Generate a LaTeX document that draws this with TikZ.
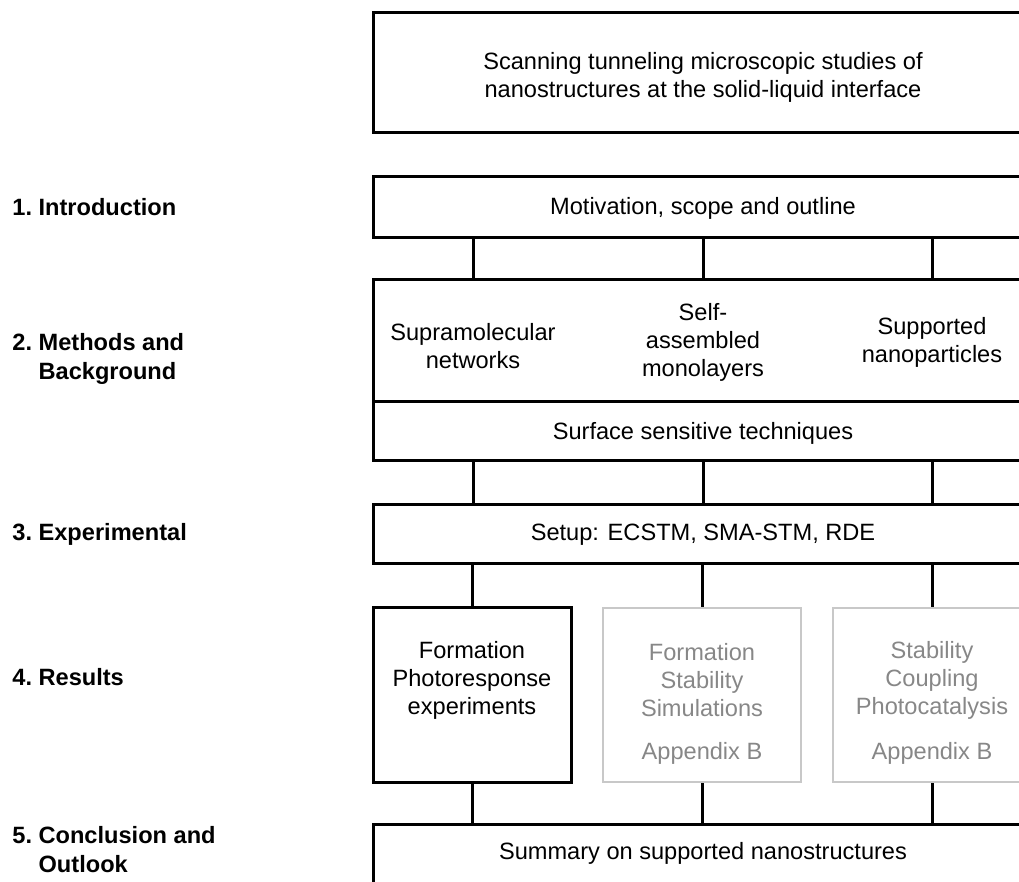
\documentclass[tikz,border=0pt]{standalone}
\usepackage{fontspec}
\setmainfont{Liberation Sans}
\definecolor{boxgrey}{RGB}{200,200,200}
\definecolor{txtgrey}{RGB}{135,135,135}
\begin{document}
\begin{tikzpicture}[x=0.5pt,y=-0.5pt,
  box/.style={draw,line width=1.5pt,minimum width=330pt,minimum height=30pt,inner sep=0pt},
  resbox/.style={draw,line width=1.5pt,minimum width=99pt,minimum height=87pt,inner sep=0pt},
  greybox/.style={resbox,draw=boxgrey,line width=1.3pt},
  txt/.style={align=center,inner sep=0pt,font=\fontsize{11.8}{14}\selectfont},
  greytxt/.style={txt,text=txtgrey},
  lbl/.style={anchor=west,align=left,inner sep=0pt,font=\fontsize{11.8}{14.5}\selectfont\bfseries},
  link/.style={line width=1.5pt}]
\useasboundingbox (0,0) rectangle (1019,882);
\clip (0,0) rectangle (1019,882);
\coordinate (c1) at (473,0);
\coordinate (c2) at (703,0);
\coordinate (c3) at (932,0);
% boxes
\node[box,minimum height=60pt] (title) at (703,73) {};
\node[txt] (titletxt) at (703,77) {Scanning tunneling microscopic studies of\\nanostructures at the solid-liquid interface};
\node[box,minimum height=30.5pt] (intro) at (703,207.5) {};
\node[txt] (introtxt) at (703,208) {Motivation, scope and outline};
\node[box,minimum height=61pt] (meth) at (703,341) {};
\node[txt] (supra) at (473,346) {Supramolecular\\networks};
\node[txt] (sam) at (703,342) {Self-\\assembled\\monolayers};
\node[txt] (nanop) at (932,342) {Supported\\nanoparticles};
\node[box,minimum height=29.5pt] (surf) at (703,431.5) {};
\node[txt] (surftxt) at (703,433) {Surface sensitive techniques};
\node[box,minimum height=29.5pt] (setup) at (703,534.5) {};
\node[txt] (setuptxt) at (703,535) {Setup: ECSTM, SMA-STM, RDE};
\node[resbox] (res1) at (472,695) {};
\node[txt] (res1txt) at (472,680) {Formation\\Photoresponse\\experiments};
\node[greybox] (res2) at (702,695) {};
\node[greytxt] (res2txt) at (702,680) {Formation\\Stability\\Simulations};
\node[greytxt] (app2) at (702,753) {Appendix B};
\node[greybox] (res3) at (932,695) {};
\node[greytxt] (res3txt) at (932,680) {Stability\\Coupling\\Photocatalysis};
\node[greytxt] (app3) at (932,753) {Appendix B};
\node[box,minimum height=30pt] (summary) at (703,854) {};
\node[txt] (sumtxt) at (703,853) {Summary on supported nanostructures};
% chapter labels
\node[lbl] (l1) at (12,207) {1.~Introduction};
\node[lbl] (l2) at (12,359) {2.~Methods and\\\phantom{2.~}Background};
\node[lbl] (l3) at (12,534) {3.~Experimental};
\node[lbl] (l4) at (12,677) {4.~Results};
\node[lbl] (l5) at (12,850) {5.~Conclusion and\\\phantom{5.~}Outlook};
% links
\draw[link] (intro.south -| c1) -- (meth.north -| c1);
\draw[link] (intro.south -| c2) -- (meth.north -| c2);
\draw[link] (intro.south -| c3) -- (meth.north -| c3);
\draw[link] (surf.south -| c1) -- (setup.north -| c1);
\draw[link] (surf.south -| c2) -- (setup.north -| c2);
\draw[link] (surf.south -| c3) -- (setup.north -| c3);
\draw[link] (setup.south -| res1) -- (res1.north);
\draw[link] (setup.south -| res2) -- (res2.north);
\draw[link] (setup.south -| res3) -- (res3.north);
\draw[link] (res1.south) -- (summary.north -| res1);
\draw[link] (res2.south) -- (summary.north -| res2);
\draw[link] (res3.south) -- (summary.north -| res3);
\end{tikzpicture}
\end{document}
